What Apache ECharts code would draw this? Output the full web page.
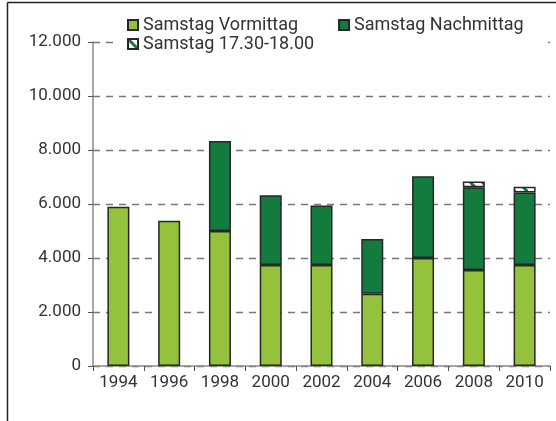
<!DOCTYPE html>
<html>
<head>
<meta charset="utf-8">
<script src="https://cdn.jsdelivr.net/npm/echarts@6/dist/echarts.min.js"></script>
<style>
  html, body { margin: 0; padding: 0; background: #fff; }
  #main { width: 556px; height: 421px; }
</style>
</head>
<body>
<div id="main"></div>
<script>
// Daten
var years = ['1994', '1996', '1998', '2000', '2002', '2004', '2006', '2008', '2010'];
var vormittag = [5900, 5380, 5000, 3740, 3740, 2680, 4000, 3560, 3740];
var nachmittag = [0, 0, 3330, 2580, 2200, 2020, 3030, 3060, 2690];
var abend = [0, 0, 0, 0, 0, 0, 0, 210, 210];
var yTicks = [0, 2000, 4000, 6000, 8000, 10000, 12000];

var hellgruen = '#95c23d';
var dunkelgruen = '#137b3e';
var rand = '#262626';
var schrift = '#333333';
var fontFamily = 'Roboto';

// Schraffur fuer 17.30-18.00
function hatch() {
  var c = document.createElement('canvas');
  c.width = 12;
  c.height = 12;
  var ctx = c.getContext('2d');
  ctx.fillStyle = '#ffffff';
  ctx.fillRect(0, 0, 12, 12);
  ctx.strokeStyle = dunkelgruen;
  ctx.lineWidth = 3;
  ctx.beginPath();
  ctx.moveTo(-2, -2);
  ctx.lineTo(14, 14);
  ctx.stroke();
  return c;
}

function fmt(v) {
  return String(v).replace(/\B(?=(\d{3})+(?!\d))/g, '.');
}

function nz(arr) {
  return arr.map(function (v) { return v === 0 ? null : v; });
}

var chart = echarts.init(document.getElementById('main'), null, { renderer: 'canvas' });

var legendText = { fontFamily: fontFamily, fontSize: 18, color: schrift };

chart.setOption({
  animation: false,
  backgroundColor: '#fff',
  textStyle: { fontFamily: fontFamily },
  grid: { left: 93, right: 6, top: 42, bottom: 55, containLabel: false },
  graphic: [
    { type: 'rect', z: 3, shape: { x: 116, y: 12, width: 430, height: 40 }, style: { fill: '#fff' } },
    { type: 'line', z: 10, shape: { x1: 7.5, y1: 2.5, x2: 556, y2: 2.5 }, style: { stroke: '#222', lineWidth: 1.5 } },
    { type: 'line', z: 10, shape: { x1: 7.5, y1: 2.5, x2: 7.5, y2: 421 }, style: { stroke: '#222', lineWidth: 1.5 } }
  ],
  legend: [
    {
      z: 5,
      left: 127, top: 16,
      padding: 0,
      icon: 'rect',
      itemGap: 40, itemWidth: 10, itemHeight: 10,
      textStyle: legendText,
      data: ['Samstag Vormittag', 'Samstag Nachmittag']
    },
    {
      z: 5,
      left: 127, top: 35,
      padding: 0,
      icon: 'rect',
      itemWidth: 10, itemHeight: 10,
      textStyle: legendText,
      data: ['Samstag 17.30-18.00']
    }
  ],
  xAxis: {
    type: 'category',
    data: years,
    boundaryGap: true,
    axisLine: { lineStyle: { color: '#8a8a8a', width: 1.5 } },
    axisTick: { show: true, alignWithLabel: false, length: 5, lineStyle: { color: '#555' } },
    axisLabel: { margin: 8, fontSize: 17, color: schrift, fontFamily: fontFamily },
    splitLine: { show: false }
  },
  yAxis: {
    type: 'value',
    min: 0, max: 12000, interval: 2000,
    axisLine: { show: true, lineStyle: { color: '#8a8a8a', width: 1.5 } },
    axisTick: { show: true, length: 5, lineStyle: { color: '#555' } },
    axisLabel: {
      margin: 12, fontSize: 17, color: schrift, fontFamily: fontFamily,
      formatter: function (v) { return fmt(v); }
    },
    splitLine: { show: true, lineStyle: { color: '#777', type: [7, 6], width: 1.3 } }
  },
  series: [
    {
      name: 'Samstag Vormittag', type: 'bar', stack: 'a',
      barWidth: 22,
      itemStyle: { color: hellgruen, borderColor: rand, borderWidth: 1.5 },
      data: vormittag
    },
    {
      name: 'Samstag Nachmittag', type: 'bar', stack: 'a',
      barWidth: 22,
      itemStyle: { color: dunkelgruen, borderColor: rand, borderWidth: 1.5 },
      data: nz(nachmittag)
    },
    {
      name: 'Samstag 17.30-18.00', type: 'bar', stack: 'a',
      barWidth: 22,
      itemStyle: { color: { image: hatch(), repeat: 'repeat' }, borderColor: rand, borderWidth: 1.5 },
      data: nz(abend)
    }
  ]
});
</script>
</body>
</html>
